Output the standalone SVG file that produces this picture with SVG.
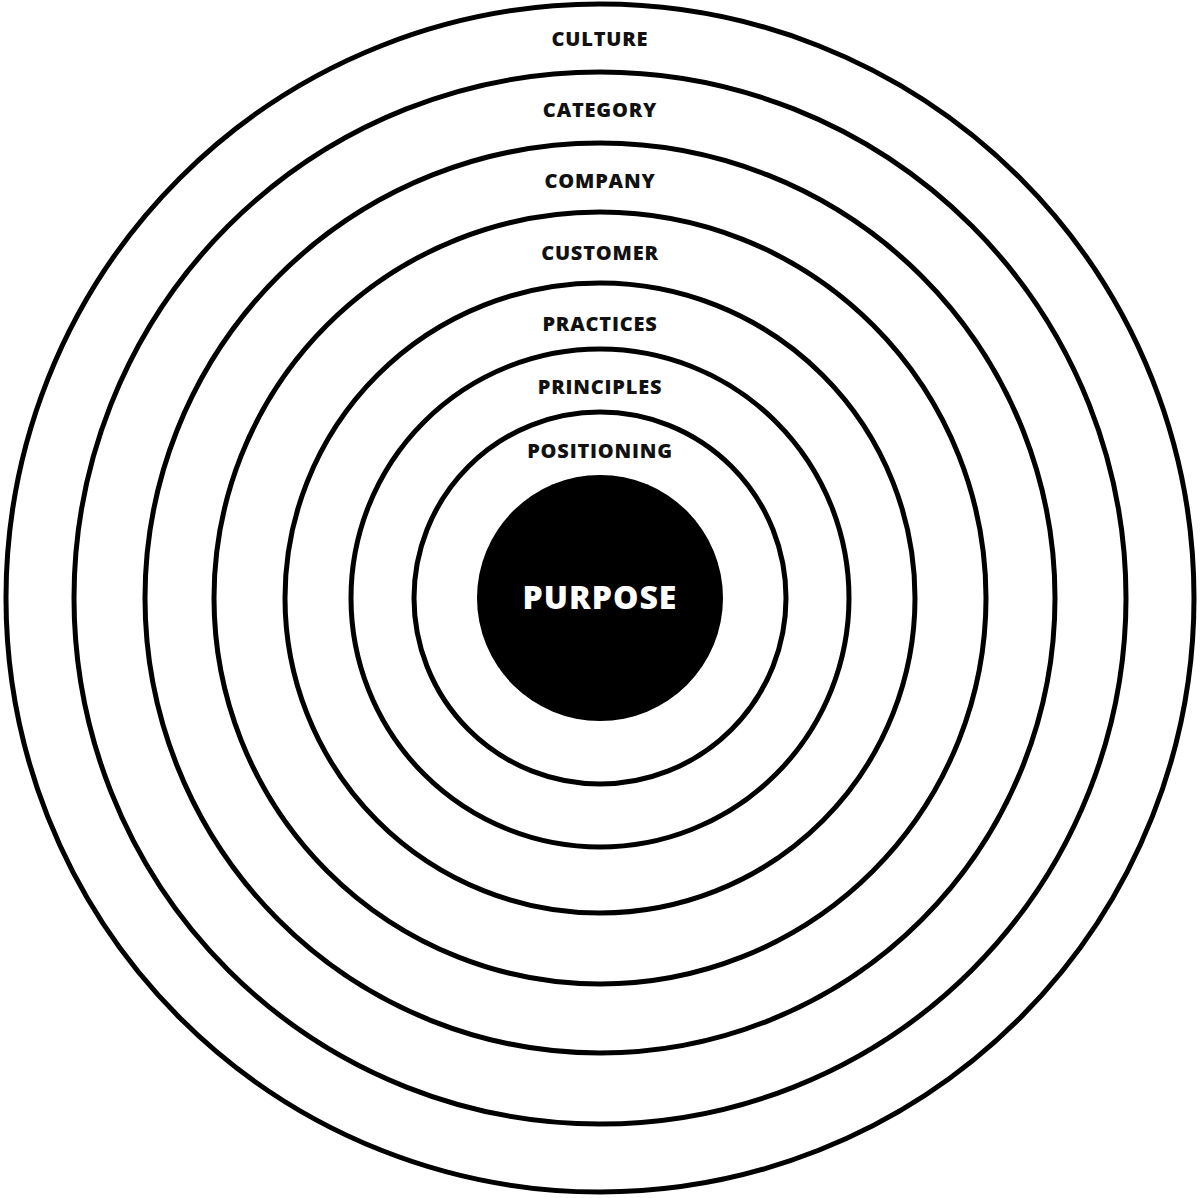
<svg xmlns="http://www.w3.org/2000/svg" width="1200" height="1198" viewBox="0 0 1200 1198">
<style>
.r{fill:none;stroke:#000;stroke-width:5}
.l{font-family:"Open Sans","Liberation Sans",sans-serif;font-weight:800;font-size:20px;text-anchor:middle;fill:#111;letter-spacing:0.8px}
</style>
<rect width="1200" height="1198" fill="#fff"/>
<g id="culture"><circle class="r" cx="600" cy="598" r="594"/><text class="l" x="600" y="46">CULTURE</text></g>
<g id="category"><circle class="r" cx="600" cy="598" r="526"/><text class="l" x="600" y="117">CATEGORY</text></g>
<g id="company"><circle class="r" cx="600" cy="598" r="455"/><text class="l" x="600" y="188">COMPANY</text></g>
<g id="customer"><circle class="r" cx="600" cy="598" r="386"/><text class="l" x="600" y="260">CUSTOMER</text></g>
<g id="practices"><circle class="r" cx="600" cy="598" r="315"/><text class="l" x="600" y="331">PRACTICES</text></g>
<g id="principles"><circle class="r" cx="600" cy="598" r="249"/><text class="l" x="600" y="394">PRINCIPLES</text></g>
<g id="positioning"><circle class="r" cx="600" cy="598" r="186"/><text class="l" x="600" y="458">POSITIONING</text></g>
<g id="purpose"><circle cx="600" cy="598" r="123" fill="#000"/><text x="600" y="609" style="font-family:'Open Sans','Liberation Sans',sans-serif;font-weight:800;font-size:32px;text-anchor:middle;fill:#fff;letter-spacing:1px">PURPOSE</text></g>
</svg>
